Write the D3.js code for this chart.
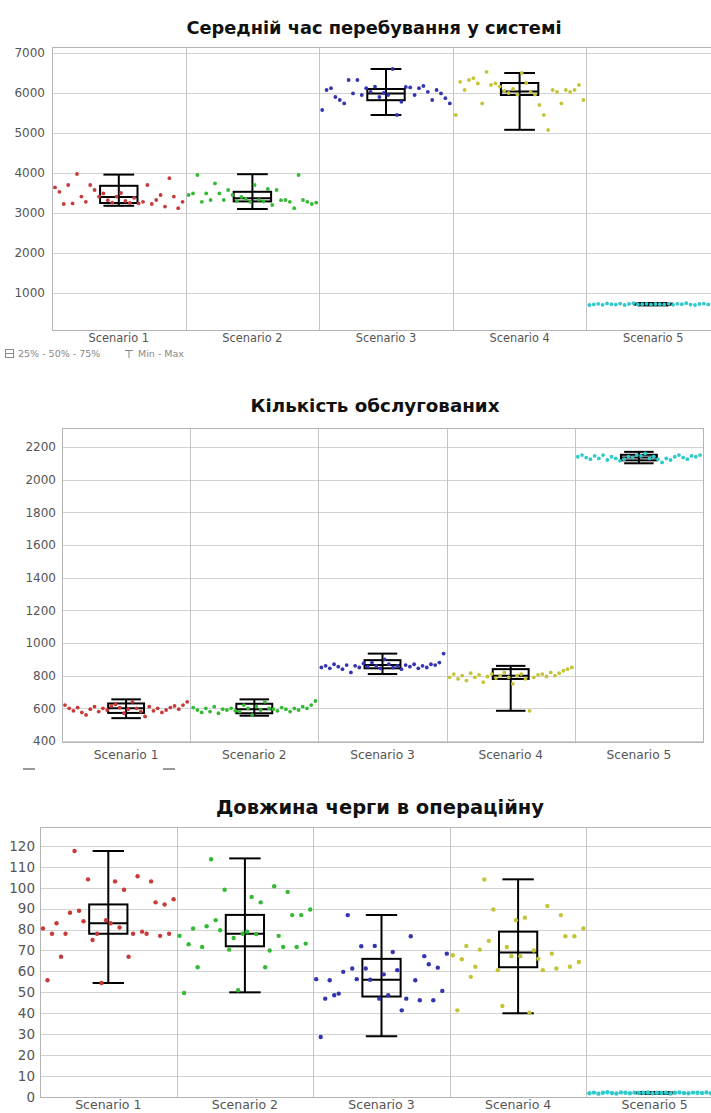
<!DOCTYPE html>
<html>
<head>
<meta charset="utf-8">
<script src="https://cdn.jsdelivr.net/npm/d3@7"></script>
<style>
  body { margin: 0; background: #fff; }
  svg { display: block; }
</style>
</head>
<body>
<div id="viz"></div>
<script>
// scenarios on the x axis
const scenarios = ["Scenario 1", "Scenario 2", "Scenario 3", "Scenario 4", "Scenario 5"];
const scenarioColors = ["#c83a3a", "#35b935", "#3434b0", "#c4c438", "#2fcaca"];

// --- chart 1: mean time in system ---
const timeTitle = "Середній час перебування у системі";
const timeTicks = [1000, 2000, 3000, 4000, 5000, 6000, 7000];
const timePoints = [
    [3640, 3530, 3225, 3700, 3240, 3975, 3410, 3280, 3700, 3575, 3410, 3490, 3320, 3260, 3410, 3500, 3300, 3250, 3380, 3240, 3280, 3700, 3225, 3325, 3450, 3160, 3870, 3410, 3120, 3280],
    [3450, 3490, 3950, 3280, 3490, 3325, 3740, 3490, 3325, 3575, 3450, 3300, 3400, 3350, 3280, 3700, 3330, 3290, 3600, 3200, 3575, 3320, 3325, 3280, 3120, 3950, 3325, 3280, 3225, 3260],
    [5575, 6075, 6120, 5900, 5825, 5740, 6325, 5990, 6325, 5950, 6120, 6030, 6160, 5900, 6000, 5950, 6600, 5450, 5780, 6150, 6140, 5950, 6120, 6175, 6030, 5825, 6075, 5990, 5870, 5740],
    [5450, 6280, 6075, 6325, 6370, 6240, 5740, 6530, 6200, 6240, 6160, 6050, 6000, 6100, 5960, 6500, 6250, 6020, 5960, 5700, 5450, 5075, 6075, 6030, 5740, 6075, 6030, 6075, 6200, 5825],
    [700, 715, 730, 705, 740, 720, 710, 735, 700, 725, 745, 715, 720, 730, 710, 725, 720, 715, 735, 705, 730, 720, 745, 710, 700, 725, 735, 715, 740, 720]
];
const timeMin = [3180, 3100, 5450, 5080, 690];
const timeQ1 = [3250, 3290, 5820, 5950, 710];
const timeMed = [3400, 3370, 5990, 6040, 722];
const timeQ3 = [3680, 3530, 6100, 6250, 735];
const timeMax = [3960, 3970, 6600, 6500, 750];

// --- chart 2: number served ---
const servedTitle = "Кількість обслугованих";
const servedTicks = [400, 600, 800, 1000, 1200, 1400, 1600, 1800, 2000, 2200];
const servedPoints = [
    [620, 600, 585, 605, 575, 560, 595, 610, 580, 600, 590, 615, 625, 605, 570, 595, 640, 600, 580, 550, 610, 585, 600, 575, 590, 605, 615, 595, 620, 640],
    [605, 590, 575, 600, 580, 610, 570, 595, 590, 600, 585, 580, 620, 600, 560, 610, 590, 640, 600, 595, 585, 605, 595, 580, 600, 590, 610, 600, 620, 645],
    [850, 860, 845, 870, 855, 840, 865, 820, 860, 850, 875, 855, 880, 860, 845, 900, 870, 850, 860, 840, 865, 855, 870, 845, 860, 850, 870, 865, 880, 935],
    [790, 810, 780, 800, 770, 815, 790, 805, 760, 795, 810, 785, 800, 820, 790, 750, 800, 810, 780, 585, 790, 805, 810, 795, 820, 800, 815, 830, 840, 850],
    [2140, 2150, 2135, 2125, 2145, 2130, 2150, 2120, 2140, 2130, 2115, 2125, 2140, 2135, 2150, 2145, 2160, 2130, 2140, 2125, 2105, 2130, 2120, 2140, 2150, 2135, 2125, 2145, 2140, 2150]
];
const servedMin = [540, 555, 810, 585, 2100];
const servedQ1 = [572, 570, 845, 780, 2118];
const servedMed = [600, 595, 865, 800, 2135];
const servedQ3 = [630, 628, 895, 840, 2152];
const servedMax = [655, 655, 935, 860, 2170];

// --- chart 3: queue length to operating room ---
const queueTitle = "Довжина черги в операційну";
const queueTicks = [0, 10, 20, 30, 40, 50, 60, 70, 80, 90, 100, 110, 120];
const queuePoints = [
    [80.5, 55.8, 78, 83, 67, 78, 88, 117.5, 89, 84, 104, 75, 78, 54.5, 84.5, 83, 103, 81, 99, 67, 78, 105.5, 79, 78, 103, 93, 77, 92, 78, 94.5],
    [77, 49.7, 73, 80.5, 62, 71.7, 81.6, 113.6, 84.5, 79.7, 99, 70.4, 76, 51, 78, 79, 95.6, 77.8, 93, 62, 70, 100.7, 77, 71.7, 98, 86.9, 71.7, 86.9, 73.3, 89.6],
    [56.3, 28.7, 47, 55.8, 48.6, 49.4, 59.8, 86.9, 61.4, 56.3, 72, 61.4, 56, 72.2, 47, 58.6, 48.6, 69.3, 60.6, 41.4, 47, 76.8, 55.8, 46.2, 67.3, 63.4, 46.2, 61.8, 50.7, 68.5],
    [67.7, 41.4, 65.8, 72.2, 57.4, 62.2, 70.4, 103.9, 74.6, 89.6, 60.6, 43.5, 71.7, 67.3, 84.5, 67.3, 85.7, 40.3, 70, 66, 60.6, 91.3, 68.5, 61.4, 86.9, 76.8, 62.2, 76.8, 64.5, 80.5],
    [1.8, 2.1, 1.6, 2.0, 2.3, 1.9, 1.7, 2.2, 2.0, 1.8, 2.1, 1.9, 2.0, 2.2, 1.8, 2.0, 1.9, 2.1, 1.7, 2.0, 2.2, 1.9, 1.8, 2.1, 2.0, 1.9, 2.2, 1.8, 2.0, 2.1]
];
const queueMin = [54.5, 50, 29, 40, 1.5];
const queueQ1 = [78, 72, 48, 62, 1.8];
const queueMed = [83, 78, 56, 69, 2.0];
const queueQ3 = [92, 87, 66, 79, 2.1];
const queueMax = [117.5, 114, 87, 104, 2.4];

const width = 711, height = 1113;
const font = "'DejaVu Sans', sans-serif";

const svg = d3.select("#viz").append("svg")
    .attr("width", width)
    .attr("height", height)
    .attr("viewBox", [0, 0, width, height])
;

function drawPanel(opt) {
    const g = svg.append("g");

    const xScale = d3.scaleBand()
        .domain(scenarios)
        .range([opt.left, opt.right])
        .padding(0)
    ;
    const yScale = d3.scaleLinear()
        .domain(opt.domain)
        .range([opt.bottom, opt.top])
    ;

    // title
    g.append("text")
        .attr("x", opt.titleX)
        .attr("y", opt.titleY)
        .attr("text-anchor", "middle")
        .style("font-family", font)
        .style("font-weight", "bold")
        .style("font-size", opt.titleSize + "px")
        .attr("fill", "#111")
        .text(opt.title)
    ;

    // horizontal grid
    g.append("g")
        .selectAll("line")
        .data(opt.ticks)
        .join("line")
        .attr("x1", opt.left).attr("x2", opt.right)
        .attr("y1", d => Math.round(yScale(d)) + 0.5)
        .attr("y2", d => Math.round(yScale(d)) + 0.5)
        .attr("stroke", "#d2d2d2")
    ;

    // column dividers
    g.append("g")
        .selectAll("line")
        .data(scenarios.slice(1))
        .join("line")
        .attr("x1", d => Math.round(xScale(d)) + 0.5)
        .attr("x2", d => Math.round(xScale(d)) + 0.5)
        .attr("y1", opt.top).attr("y2", opt.bottom)
        .attr("stroke", "#c4c4c4")
    ;

    // frame
    g.append("rect")
        .attr("x", opt.left + 0.5)
        .attr("y", opt.top + 0.5)
        .attr("width", opt.right - opt.left)
        .attr("height", opt.bottom - opt.top)
        .attr("fill", "none")
        .attr("stroke", "#b4b4b4")
    ;

    // y axis labels
    const yAxis = g.append("g")
        .attr("transform", `translate(${opt.left},0)`)
        .call(d3.axisLeft(yScale).tickValues(opt.ticks).tickFormat(d3.format("d")).tickSize(0).tickPadding(opt.labelPad))
    ;
    yAxis.select(".domain").remove();
    yAxis.selectAll("text")
        .style("font-family", font)
        .style("font-size", opt.ySize + "px")
        .attr("fill", "#555")
    ;

    // x axis labels
    const xAxis = g.append("g")
        .attr("transform", `translate(0,${opt.bottom})`)
        .call(d3.axisBottom(xScale).tickSize(0).tickPadding(opt.xPad))
    ;
    xAxis.select(".domain").remove();
    xAxis.selectAll("text")
        .style("font-family", font)
        .style("font-size", opt.xSize + "px")
        .attr("fill", "#555")
    ;

    const bw = xScale.bandwidth();
    const boxW = bw * 0.28, capW = bw * 0.23;

    scenarios.forEach((s, i) => {
        const x0 = xScale(s);
        const cx = x0 + bw / 2;
        const col = g.append("g");

        // whisker
        col.append("line")
            .attr("x1", cx).attr("x2", cx)
            .attr("y1", yScale(opt.min[i])).attr("y2", yScale(opt.max[i]))
            .attr("stroke", "#000").attr("stroke-width", 2)
        ;
        [opt.min[i], opt.max[i]].forEach(v => {
            col.append("line")
                .attr("x1", cx - capW / 2).attr("x2", cx + capW / 2)
                .attr("y1", yScale(v)).attr("y2", yScale(v))
                .attr("stroke", "#000").attr("stroke-width", 2)
            ;
        });

        // IQR box
        col.append("rect")
            .attr("x", cx - boxW / 2)
            .attr("width", boxW)
            .attr("y", yScale(opt.q3[i]))
            .attr("height", Math.max(0, yScale(opt.q1[i]) - yScale(opt.q3[i])))
            .attr("fill", "none")
            .attr("stroke", "#000").attr("stroke-width", 2)
        ;
        col.append("line")
            .attr("x1", cx - boxW / 2).attr("x2", cx + boxW / 2)
            .attr("y1", yScale(opt.med[i])).attr("y2", yScale(opt.med[i]))
            .attr("stroke", "#000").attr("stroke-width", 2)
        ;

        // replication points spread across the column
        const vals = opt.points[i];
        const px = d3.scalePoint()
            .domain(d3.range(vals.length))
            .range([x0 + 3, x0 + bw - 3])
        ;
        col.append("g")
            .selectAll("circle")
            .data(vals)
            .join("circle")
            .attr("cx", (d, j) => px(j))
            .attr("cy", d => yScale(d))
            .attr("r", opt.r)
            .attr("fill", scenarioColors[i])
        ;
    });

    return g;
}

drawPanel({
    title: timeTitle, titleX: 374, titleY: 34, titleSize: 17.8,
    left: 52, right: 720, top: 47, bottom: 330,
    domain: [75, 7150], ticks: timeTicks, labelPad: 7, xPad: 4, r: 1.9,
    ySize: 12, xSize: 11.4,
    points: timePoints, min: timeMin, q1: timeQ1, med: timeMed, q3: timeQ3, max: timeMax
});

// legend under chart 1
const legend = svg.append("g")
    .style("font-family", font)
    .style("font-size", "9.5px")
    .attr("fill", "#888")
;
legend.append("rect").attr("x", 5.5).attr("y", 349.5).attr("width", 8).attr("height", 8)
    .attr("fill", "none").attr("stroke", "#888");
legend.append("line").attr("x1", 5).attr("x2", 14).attr("y1", 353.5).attr("y2", 353.5).attr("stroke", "#888");
legend.append("text").attr("x", 18).attr("y", 357).text("25% - 50% - 75%");
legend.append("path").attr("d", "M125,350.5H133M129,350.5V358").attr("stroke", "#888").attr("fill", "none");
legend.append("text").attr("x", 138).attr("y", 357).text("Min - Max");

drawPanel({
    title: servedTitle, titleX: 375, titleY: 412, titleSize: 18.3,
    left: 62, right: 703, top: 428, bottom: 742,
    domain: [394, 2316], ticks: servedTicks, labelPad: 6, xPad: 8, r: 1.9,
    ySize: 12, xSize: 12.2,
    points: servedPoints, min: servedMin, q1: servedQ1, med: servedMed, q3: servedQ3, max: servedMax
});

// clipped legend icons under chart 2
svg.append("g")
    .selectAll("rect")
    .data([23, 163])
    .join("rect")
    .attr("x", d => d).attr("y", 768)
    .attr("width", 12).attr("height", 2)
    .attr("fill", "#999")
;

drawPanel({
    title: queueTitle, titleX: 380, titleY: 814, titleSize: 19.5,
    left: 40, right: 723, top: 827, bottom: 1097,
    domain: [0, 129], ticks: queueTicks, labelPad: 5, xPad: 3, r: 2.2,
    ySize: 13.5, xSize: 12.5,
    points: queuePoints, min: queueMin, q1: queueQ1, med: queueMed, q3: queueQ3, max: queueMax
});
</script>
</body>
</html>
